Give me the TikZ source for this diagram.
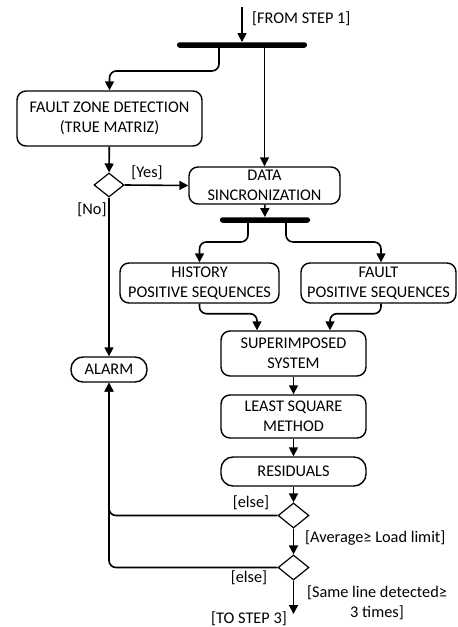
\documentclass[tikz,border=0pt]{standalone}
\usepackage{fontspec}
\setmainfont{Carlito}
\usetikzlibrary{arrows.meta,shapes.geometric}
\tikzset{
  flow/.style={line width=1.6pt,-{Triangle[length=9pt,width=9pt]}},
  plain/.style={line width=1.6pt},
  actbox/.style={draw,line width=1.4pt,rounded corners=9pt,align=center,inner sep=1pt},
  pillbox/.style={draw,line width=1.4pt,rounded corners=12pt,align=center,inner sep=1pt},
  decision/.style={draw,diamond,line width=1.2pt,minimum width=31pt,minimum height=25pt,inner sep=0pt},
  syncbar/.style={fill=black,rounded corners=2.5pt,minimum height=5.5pt,inner sep=0pt},
  guard/.style={inner sep=1pt}
}
\begin{document}
\begin{tikzpicture}[x=1pt,y=-1pt,font=\fontsize{16.3}{19.8}\selectfont]
  \useasboundingbox (0,0) rectangle (458,627);
  \draw
    (242,45) node[syncbar,minimum width=130pt] (bar1){}
    (265,220) node[syncbar,minimum width=90pt] (bar2){}
    (109.5,118.5) node[actbox,minimum width=185pt,minimum height=55pt] (fzd){FAULT ZONE DETECTION\\(TRUE MATRIZ)}
    (264.5,185.5) node[actbox,minimum width=151pt,minimum height=37pt] (data){DATA\\SINCRONIZATION}
    (199.5,283) node[actbox,minimum width=159pt,minimum height=40pt] (hist){HISTORY\\POSITIVE SEQUENCES}
    (378.5,283) node[actbox,minimum width=155pt,minimum height=40pt] (fault){FAULT\\POSITIVE SEQUENCES}
    (293.5,353.5) node[actbox,minimum width=145pt,minimum height=45pt] (sup){SUPERIMPOSED\\SYSTEM}
    (293.5,416.5) node[actbox,minimum width=145pt,minimum height=43pt] (lsm){LEAST SQUARE\\METHOD}
    (293.5,471.5) node[pillbox,minimum width=145pt,minimum height=29pt] (res){RESIDUALS}
    (109,369.5) node[pillbox,minimum width=76pt,minimum height=25pt] (alarm){ALARM}
    (109,185) node[decision,minimum width=30pt,minimum height=24pt] (dec0){}
    (293.5,515.5) node[decision] (dec1){}
    (293.5,567.5) node[decision] (dec2){};
  \coordinate (start) at (242,7);
  \coordinate (end) at (293.5,614);
  % guards and notes
  \node[guard,anchor=west] (from) at (251,19) {[FROM STEP 1]};
  \node[guard] (yes) at (147,173) {[Yes]};
  \node[guard] (no) at (92,210) {[No]};
  \node[guard] (else1) at (251,503) {[else]};
  \node[guard,anchor=west] (avg) at (304,538) {[Average≥ Load limit]};
  \node[guard] (else2) at (249,578) {[else]};
  \node[guard,align=center] (same) at (377,603) {[Same line detected≥\\3 times]};
  \node[guard] (to) at (249,619) {[TO STEP 3]};
  % connectors
  \begin{scope}[rounded corners=7pt]
    \draw[flow] (start) -- (bar1);
    \draw[flow] ([xshift=-23pt]bar1.south) -- ++(0,23) -| (fzd.north);
    \draw[flow] (bar1.south -| data.north) -- (data.north);
    \draw[flow] (fzd) -- (dec0);
    \draw[flow] (dec0.east) -- (data.west);
    \draw[flow] (dec0.south) -- (alarm.north);
    \draw[flow] (data) -- (bar2);
    \draw[flow] ([xshift=-17pt]bar2.south) -- ++(0,19) -| (hist.north);
    \draw[flow] ([xshift=21pt]bar2.south) -- ++(0,19) -| ([xshift=2.5pt]fault.north);
    \draw[flow] (hist.south) -- ++(0,10) -| ([xshift=-36.5pt]sup.north);
    \draw[flow] ([xshift=2.5pt]fault.south) -- ++(0,10) -| ([xshift=36.5pt]sup.north);
    \draw[flow] (sup) -- (lsm);
    \draw[flow] (lsm) -- (res);
    \draw[flow] (res) -- (dec1);
    \draw[flow] (dec1) -- (dec2);
    \draw[flow] (dec2) -- (end);
    \draw[flow] (dec1.west) -| (alarm.south);
    \draw[flow] (dec2.west) -| (alarm.south);
  \end{scope}
\end{tikzpicture}
\end{document}
